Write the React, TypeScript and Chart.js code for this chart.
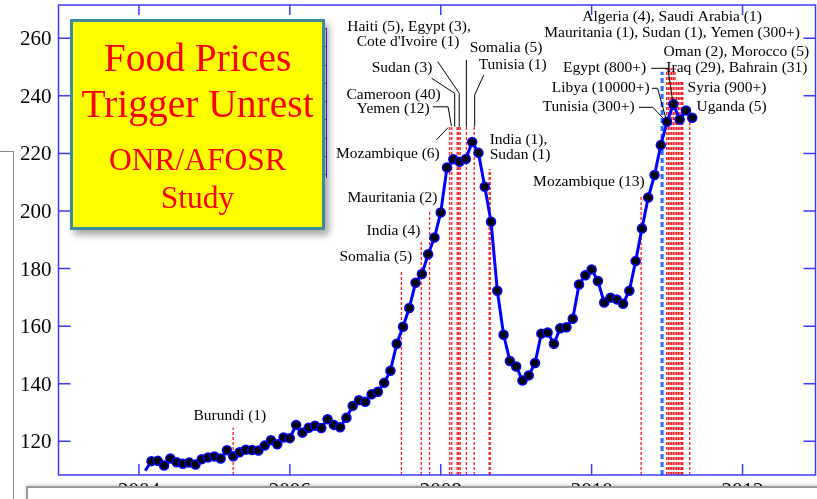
import React, { useEffect, useRef } from 'react';
import { Chart, registerables } from 'chart.js';
Chart.register(...registerables);

// FAO food price index, monthly (Jan = first value of each year)
const price2004 = [109.8, 113.1, 113.2, 111.6, 114.0, 112.7, 112.2, 112.6, 111.9, 113.8, 114.4, 114.7];
const price2005 = [114.0, 116.9, 114.8, 116.2, 117.1, 117.0, 116.8, 118.5, 120.4, 119.0, 121.3, 121.1];
const price2006 = [125.7, 123.0, 124.7, 125.4, 124.6, 127.7, 125.7, 124.9, 128.2, 132.3, 134.3, 133.7];
const price2007 = [136.3, 137.2, 140.3, 144.5, 153.9, 159.8, 166.3, 175.1, 178.1, 185.0, 190.8, 199.5];
const price2008 = [215.1, 218.0, 217.1, 218.1, 224.0, 220.2, 208.4, 196.3, 172.3, 157.0, 147.9, 146.0];
const price2009 = [141.1, 142.9, 147.2, 157.4, 157.8, 153.9, 159.3, 159.6, 162.6, 174.5, 177.7, 179.7];
const price2010 = [175.7, 168.2, 169.9, 169.3, 167.8, 172.3, 182.6, 193.9, 204.7, 212.5, 222.9, 231.0];
const price2011 = [237.1, 231.8, 234.9, 232.4];
const priceYears = [2004, 2005, 2006, 2007, 2008, 2009, 2010, 2011];
const priceByYear = [price2004, price2005, price2006, price2007, price2008, price2009, price2010, price2011];

const xTickValues = [2004, 2006, 2008, 2010, 2012];
const yTickValues = [120, 140, 160, 180, 200, 220, 240, 260];
const xMin = 2002.934, xMax = 2012.967;
const yMin = 108.29, yMax = 271.57;

// unrest events: date (decimal year) and the height the marker line reaches
const redEventDates = [2005.249, 2007.479, 2007.742, 2007.852, 2008.119, 2008.146, 2008.218, 2008.238, 2008.258, 2008.34, 2008.444, 2008.642, 2008.656, 2010.656,
  2010.995, 2011.017, 2011.039, 2011.061, 2011.083, 2011.105, 2011.127, 2011.149, 2011.171, 2011.193, 2011.207, 2011.30];
const redEventTops = [124.7, 179.3, 189.9, 200.0, 229.3, 229.3, 229.3, 229.3, 229.3, 229.3, 229.3, 214.5, 214.5, 204.9,
  249.6, 249.6, 249.6, 249.6, 249.6, 249.6, 245.5, 245.5, 245.5, 245.5, 245.5, 236.2];
const blueEventDates = [2010.934];
const blueEventTops = [248.4];

type Label = { text: string; x: number; y: number; align: CanvasTextAlign };
const labels: Label[] = [
  { text: 'Burundi (1)', x: 2005.205, y: 128.9, align: 'center' },
  { text: 'Somalia (5)', x: 2007.621, y: 184.0, align: 'right' },
  { text: 'India (4)', x: 2007.73, y: 193.1, align: 'right' },
  { text: 'Mauritania (2)', x: 2007.956, y: 204.4, align: 'right' },
  { text: 'Mozambique (6)', x: 2007.987, y: 219.9, align: 'right' },
  { text: 'Cameroon (40)', x: 2008.0, y: 240.3, align: 'right' },
  { text: 'Yemen (12)', x: 2007.854, y: 235.3, align: 'right' },
  { text: 'Sudan (3)', x: 2007.89, y: 249.8, align: 'right' },
  { text: 'Haiti (5), Egypt (3),', x: 2007.58, y: 263.8, align: 'center' },
  { text: "Cote d'Ivoire (1)", x: 2007.567, y: 258.6, align: 'center' },
  { text: 'Somalia (5)', x: 2008.384, y: 256.5, align: 'left' },
  { text: 'Tunisia (1)', x: 2008.503, y: 250.7, align: 'left' },
  { text: 'India (1),', x: 2008.649, y: 224.7, align: 'left' },
  { text: 'Sudan (1)', x: 2008.649, y: 219.5, align: 'left' },
  { text: 'Mozambique (13)', x: 2010.702, y: 210.0, align: 'right' },
  { text: 'Algeria (4), Saudi Arabia (1)', x: 2011.066, y: 267.3, align: 'center' },
  { text: 'Mauritania (1), Sudan (1), Yemen (300+)', x: 2011.066, y: 261.7, align: 'center' },
  { text: 'Oman (2), Morocco (5)', x: 2010.954, y: 255.3, align: 'left' },
  { text: 'Iraq (29), Bahrain (31)', x: 2010.99, y: 249.6, align: 'left' },
  { text: 'Syria (900+)', x: 2011.272, y: 242.8, align: 'left' },
  { text: 'Uganda (5)', x: 2011.391, y: 236.2, align: 'left' },
  { text: 'Egypt (800+)', x: 2010.724, y: 249.6, align: 'right' },
  { text: 'Libya (10000+)', x: 2010.768, y: 242.6, align: 'right' },
  { text: 'Tunisia (300+)', x: 2010.57, y: 236.0, align: 'right' },
];

const leaders: number[][][] = [
  [[2007.943, 224.7], [2008.097, 229.0]],
  [[2007.898, 236.2], [2008.097, 236.2], [2008.142, 229.5]],
  [[2007.881, 246.1], [2008.185, 240.9], [2008.185, 229.3]],
  [[2007.96, 251.9], [2008.245, 240.9], [2008.245, 229.3]],
  [[2008.34, 252.5], [2008.34, 229.3]],
  [[2008.57, 247.25], [2008.45, 240.3], [2008.45, 229.3]],
  [[2010.79, 249.58], [2011.01, 249.58], [2011.08, 237.18]],
  [[2010.799, 242.63], [2010.874, 242.63], [2010.99, 231.6]],
  [[2010.627, 236.03], [2010.812, 236.03], [2010.99, 231.03]],
];

const AXIS_BLUE = '#3b3bff';
const SERIF = '"Liberation Serif", "Times New Roman", serif';

const annotPlugin = {
  id: 'annot',
  beforeDatasetsDraw(chart: any) {
    const { ctx, scales: { x, y }, chartArea } = chart;
    ctx.save();
    ctx.lineWidth = 1.3;
    ctx.strokeStyle = 'rgba(255,0,0,0.9)';
    ctx.setLineDash([3, 2]);
    redEventDates.forEach((d, i) => {
      const px = x.getPixelForValue(d);
      ctx.beginPath();
      ctx.moveTo(px, chartArea.bottom);
      ctx.lineTo(px, y.getPixelForValue(redEventTops[i]));
      ctx.stroke();
    });
    ctx.lineWidth = 3;
    ctx.strokeStyle = '#2f6bff';
    ctx.setLineDash([5, 3]);
    blueEventDates.forEach((d, i) => {
      const px = x.getPixelForValue(d);
      ctx.beginPath();
      ctx.moveTo(px, chartArea.bottom);
      ctx.lineTo(px, y.getPixelForValue(blueEventTops[i]));
      ctx.stroke();
    });
    ctx.restore();
  },
  afterDatasetsDraw(chart: any) {
    const { ctx, scales: { x, y }, chartArea } = chart;
    const { left, right, top, bottom } = chartArea;
    ctx.save();
    ctx.strokeStyle = '#000';
    ctx.lineWidth = 1;
    ctx.setLineDash([]);
    leaders.forEach(pts => {
      ctx.beginPath();
      pts.forEach(([a, b], i) => {
        const px = x.getPixelForValue(a), py = y.getPixelForValue(b);
        if (i === 0) ctx.moveTo(px, py); else ctx.lineTo(px, py);
      });
      ctx.stroke();
    });
    ctx.fillStyle = '#000';
    ctx.font = `15.5px ${SERIF}`;
    ctx.textBaseline = 'middle';
    labels.forEach(l => {
      ctx.textAlign = l.align;
      ctx.fillText(l.text, x.getPixelForValue(l.x), y.getPixelForValue(l.y));
    });
    // tick labels
    ctx.font = `21px ${SERIF}`;
    ctx.textBaseline = 'alphabetic';
    ctx.textAlign = 'right';
    yTickValues.forEach(v => ctx.fillText(String(v), left - 7, y.getPixelForValue(v) + 7));
    ctx.textAlign = 'center';
    xTickValues.forEach(v => ctx.fillText(String(v), x.getPixelForValue(v), bottom + 22));
    // frame and inward ticks
    ctx.strokeStyle = AXIS_BLUE;
    ctx.lineWidth = 1.5;
    ctx.strokeRect(left, top, right - left, bottom - top);
    ctx.beginPath();
    xTickValues.forEach(v => {
      const px = x.getPixelForValue(v);
      ctx.moveTo(px, bottom); ctx.lineTo(px, bottom - 11);
      ctx.moveTo(px, top); ctx.lineTo(px, top + 10);
    });
    yTickValues.forEach(v => {
      const py = y.getPixelForValue(v);
      ctx.moveTo(left, py); ctx.lineTo(left + 12, py);
      ctx.moveTo(right, py); ctx.lineTo(right - 12, py);
    });
    ctx.stroke();
    ctx.restore();
  },
};

export default function App() {
  const ref = useRef<HTMLCanvasElement>(null);
  useEffect(() => {
    const points: { x: number; y: number }[] = [];
    priceByYear.forEach((arr, yi) => arr.forEach((v, m) => points.push({ x: priceYears[yi] + (m + 1) / 12, y: v })));
    const radii = points.map((_, i) => (i === 0 ? 0 : 4.5));
    const chart = new Chart(ref.current!, {
      type: 'line',
      data: {
        datasets: [{
          data: points,
          borderColor: '#0000ff',
          borderWidth: 3,
          pointRadius: radii,
          pointBackgroundColor: '#000',
          pointBorderColor: '#0000ff',
          pointBorderWidth: 1.5,
          tension: 0,
        }],
      },
      options: {
        animation: false,
        responsive: false,
        devicePixelRatio: 1,
        layout: { autoPadding: false, padding: { top: 5, right: 1.5, left: 58.5, bottom: 24 } },
        plugins: { legend: { display: false }, tooltip: { enabled: false } },
        scales: {
          x: { type: 'linear', min: xMin, max: xMax, display: false },
          y: { min: yMin, max: yMax, display: false },
        },
      },
      plugins: [annotPlugin],
    });
    return () => chart.destroy();
  }, []);

  const line = (top: number, size: number, text: string) => (
    <div style={{ position: 'absolute', left: 70, width: 255, top, textAlign: 'center', fontFamily: SERIF, fontSize: size, lineHeight: `${size}px`, color: '#ff0000', whiteSpace: 'nowrap' }}>{text}</div>
  );

  return (
    <div style={{ position: 'fixed', left: 0, top: 0, width: 817, height: 499, overflow: 'hidden', background: '#fff' }}>
      <div style={{ position: 'absolute', left: -20, top: 150.5, width: 33.5, height: 400, borderTop: '1.5px solid #8a8a8a', borderRight: '1.5px solid #8a8a8a', boxSizing: 'border-box' }} />
      <canvas ref={ref} width={817} height={499} style={{ position: 'absolute', left: 0, top: 0, width: 817, height: 499 }} />
      <div style={{ position: 'absolute', left: 322, top: 28, width: 4.5, height: 150, borderRight: `1.5px solid ${AXIS_BLUE}`, boxSizing: 'border-box', background: `repeating-linear-gradient(to bottom, ${AXIS_BLUE} 0px, ${AXIS_BLUE} 1px, transparent 1px, transparent 18.3px)` }} />
      <div style={{ position: 'absolute', left: 70, top: 19, width: 255, height: 211, boxSizing: 'border-box', background: '#ffff00', border: '3.5px solid #3d8b9b', boxShadow: '4px 5px 7px rgba(0,0,0,0.35)' }} />
      {line(38.6, 39.5, 'Food Prices')}
      {line(85.2, 39.5, 'Trigger Unrest')}
      {line(143.6, 31.5, 'ONR/AFOSR')}
      {line(181.9, 31.5, 'Study')}
      <div style={{ position: 'absolute', left: 26, top: 486, width: 900, height: 100, boxSizing: 'border-box', background: '#fff', borderTop: '2px solid #9a9a9a', borderLeft: '2px solid #9a9a9a', boxShadow: '0 -1px 3px rgba(0,0,0,0.2)' }} />
    </div>
  );
}
